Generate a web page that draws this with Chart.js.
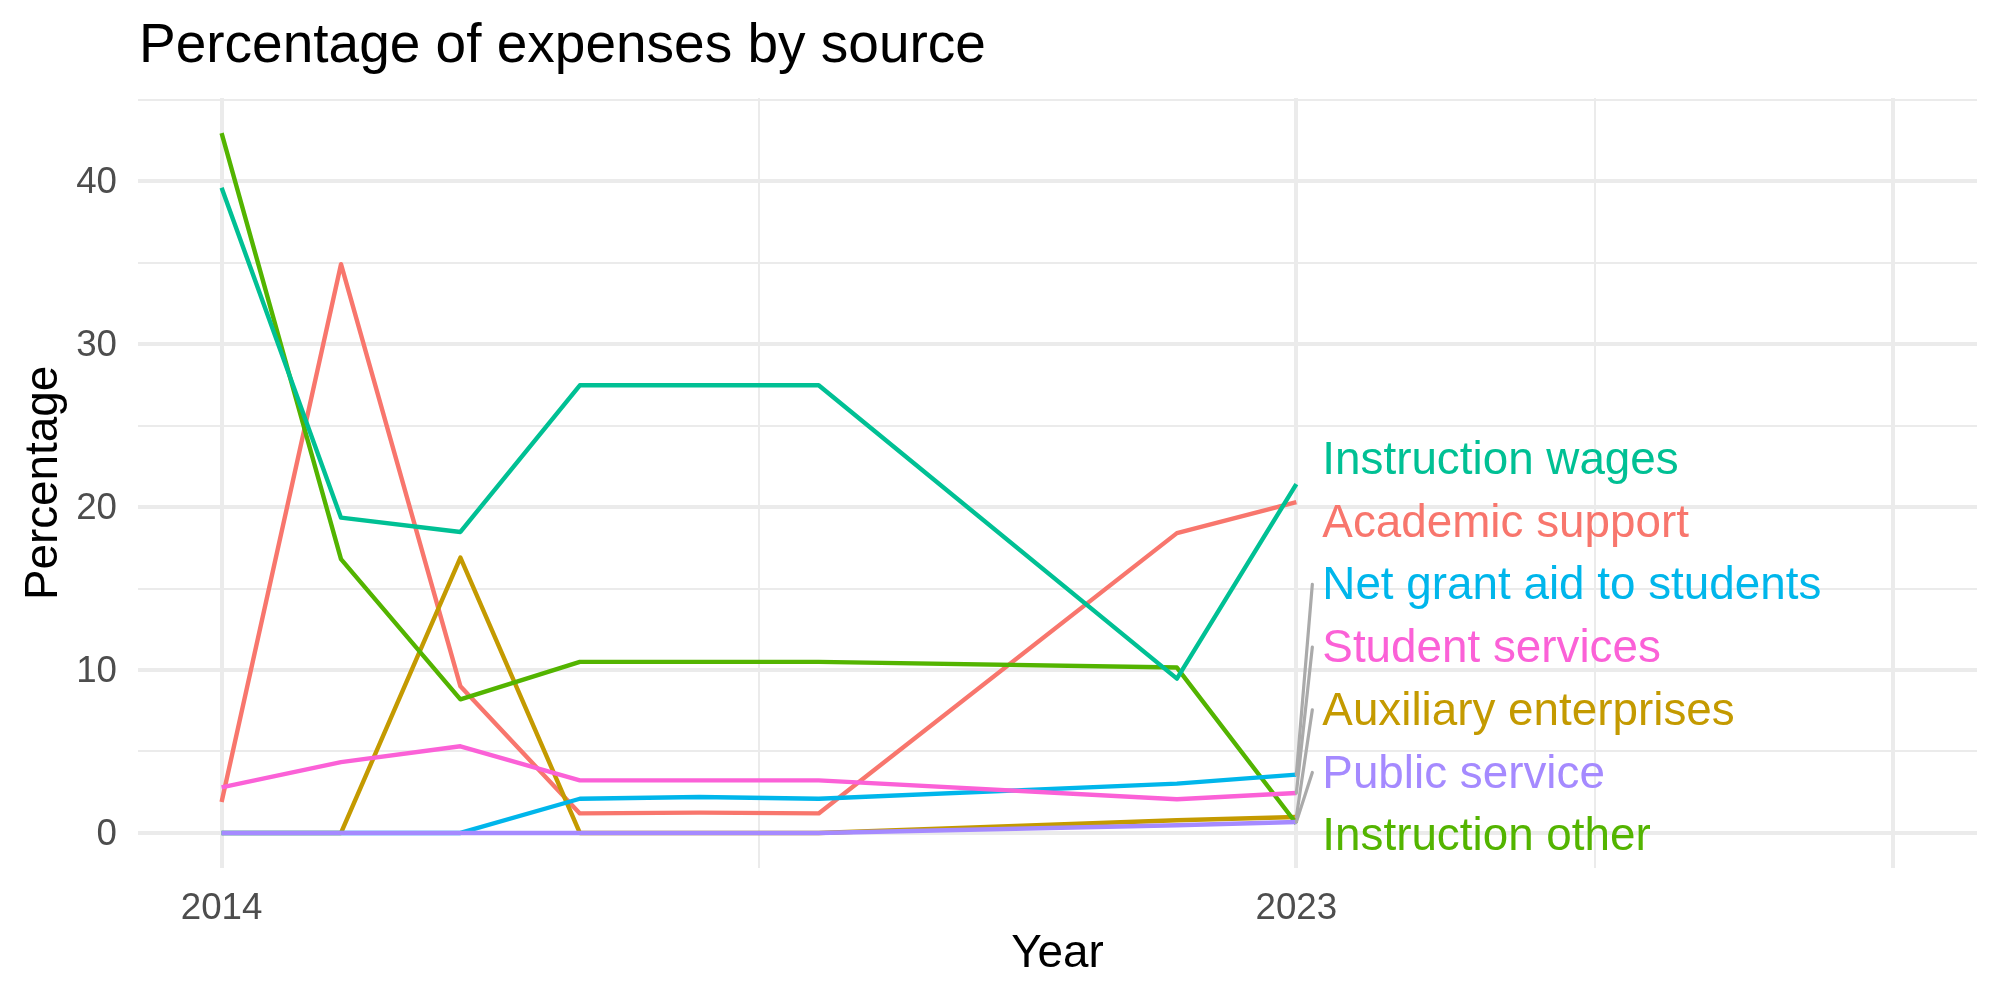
<!DOCTYPE html>
<html>
<head>
<meta charset="utf-8">
<script src="https://cdn.jsdelivr.net/npm/chart.js@4.4.1/dist/chart.umd.min.js"></script>
<style>
  html, body { margin: 0; padding: 0; background: #ffffff; }
  #wrap { width: 2000px; height: 1000px; }
</style>
</head>
<body>
<div id="wrap"><canvas id="line-chart" width="2000" height="1000"></canvas></div>
<script>
// data
var years = [2014, 2015, 2016, 2017, 2018, 2019, 2022, 2023];
var academicSupport   = [1.9, 34.9, 9.0, 1.2, 1.25, 1.2, 18.4, 20.3];
var auxiliary         = [0, 0, 16.9, 0, 0, 0, 0.78, 0.98];
var instructionOther  = [42.95, 16.8, 8.2, 10.5, 10.5, 10.5, 10.15, 0.58];
var instructionWages  = [39.6, 19.35, 18.47, 27.47, 27.47, 27.47, 9.47, 21.4];
var netGrantAid       = [0, 0, 0, 2.1, 2.21, 2.1, 3.03, 3.58];
var publicService     = [0, 0, 0, 0, 0, 0, 0.47, 0.67];
var studentServices   = [2.8, 4.35, 5.32, 3.23, 3.23, 3.23, 2.07, 2.45];

var seriesNames = ['Academic support', 'Auxiliary enterprises', 'Instruction other',
    'Instruction wages', 'Net grant aid to students', 'Public service', 'Student services'];
var seriesValues = [academicSupport, auxiliary, instructionOther, instructionWages,
    netGrantAid, publicService, studentServices];
var seriesColors = ['#F8766D', '#C49A00', '#53B400', '#00C094', '#00B6EB', '#A58AFF', '#FB61D7'];

var xBreaks = [2014, 2018.5, 2023, 2025.5, 2028];
var xLabels = [2014, 2023];
var yBreaks = [0, 5, 10, 15, 20, 25, 30, 35, 40, 45];
var yLabels = [0, 10, 20, 30, 40];

var FONT = "'Liberation Sans', Arial, Helvetica, sans-serif";
var GRID = '#EBEBEB';

// end-of-line labels, stacked like ggrepel did it
var endLabels = {
    id: 'endLabels',
    afterDatasetsDraw: function(chart) {
        var ctx = chart.ctx;
        var xs = chart.scales.x, ys = chart.scales.y;
        var last = years.length - 1;
        var px = xs.getPixelForValue(years[last]);
        var order = seriesNames.map(function(n, i) { return i; });
        order.sort(function(a, b) { return seriesValues[b][last] - seriesValues[a][last]; });

        var textX = px + 26;
        var firstBase = 474, step = 62.7;
        ctx.save();
        ctx.font = '45.8px ' + FONT;
        ctx.textAlign = 'left';
        ctx.textBaseline = 'alphabetic';
        ctx.lineCap = 'round';
        order.forEach(function(idx, k) {
            var base = firstBase + k * step;
            var mid = base - 15;
            var py = ys.getPixelForValue(seriesValues[idx][last]);
            if (Math.abs(py - mid) > 40) {
                ctx.strokeStyle = '#AAAAAA';
                ctx.lineWidth = 3.2;
                ctx.beginPath();
                ctx.moveTo(textX - 10, mid);
                ctx.lineTo(px, py);
                ctx.stroke();
            }
            ctx.fillStyle = seriesColors[idx];
            ctx.fillText(seriesNames[idx], textX, base);
        });

        // title
        ctx.fillStyle = '#000000';
        ctx.font = '55px ' + FONT;
        ctx.fillText('Percentage of expenses by source', 139, 62);
        ctx.restore();
    }
};

function drawGraph() {
    var ctx = document.getElementById('line-chart').getContext('2d');
    var n = seriesNames.length;
    var datasets = seriesNames.map(function(name, i) {
        return {
            label: name,
            data: years.map(function(y, j) { return { x: y, y: seriesValues[i][j] }; }),
            borderColor: seriesColors[i],
            backgroundColor: seriesColors[i],
            borderWidth: 4.4,
            borderJoinStyle: 'round',
            pointRadius: 0,
            tension: 0,
            fill: false,
            order: n - 1 - i
        };
    });

    new Chart(ctx, {
        type: 'line',
        data: { datasets: datasets },
        options: {
            responsive: false,
            animation: false,
            devicePixelRatio: 1,
            layout: { padding: { top: 98, right: 23, bottom: 0, left: 0 } },
            plugins: {
                legend: { display: false },
                tooltip: { enabled: false },
                title: { display: false }
            },
            scales: {
                x: {
                    type: 'linear',
                    min: 2013.3,
                    max: 2028.7,
                    afterBuildTicks: function(axis) {
                        axis.ticks = xBreaks.map(function(v) { return { value: v }; });
                    },
                    afterFit: function(axis) { axis.height = 132; },
                    border: { display: false },
                    grid: {
                        color: GRID,
                        drawTicks: false,
                        lineWidth: function(c) {
                            return xLabels.indexOf(c.tick.value) >= 0 || c.tick.value === 2028 ? 4 : 2;
                        }
                    },
                    ticks: {
                        autoSkip: false,
                        maxRotation: 0,
                        padding: 19,
                        color: '#4D4D4D',
                        font: { family: FONT, size: 36.7 },
                        callback: function(v) { return xLabels.indexOf(v) >= 0 ? String(v) : ''; }
                    },
                    title: {
                        display: true,
                        text: 'Year',
                        color: '#000000',
                        font: { family: FONT, size: 45.8 },
                        padding: { top: 0, bottom: 18 }
                    }
                },
                y: {
                    type: 'linear',
                    min: -2.15,
                    max: 45.1,
                    afterBuildTicks: function(axis) {
                        axis.ticks = yBreaks.map(function(v) { return { value: v }; });
                    },
                    afterFit: function(axis) { axis.width = 138; },
                    border: { display: false },
                    grid: {
                        color: GRID,
                        drawTicks: false,
                        lineWidth: function(c) {
                            return yLabels.indexOf(c.tick.value) >= 0 ? 4 : 2;
                        }
                    },
                    ticks: {
                        autoSkip: false,
                        padding: 21,
                        labelOffset: 1.5,
                        color: '#4D4D4D',
                        font: { family: FONT, size: 36.7 },
                        callback: function(v) { return yLabels.indexOf(v) >= 0 ? String(v) : ''; }
                    },
                    title: {
                        display: true,
                        text: 'Percentage',
                        color: '#000000',
                        font: { family: FONT, size: 45.8 },
                        padding: { top: 17, bottom: 0 }
                    }
                }
            }
        },
        plugins: [endLabels]
    });
}

window.addEventListener('load', function() {
    drawGraph();
});
</script>
</body>
</html>
